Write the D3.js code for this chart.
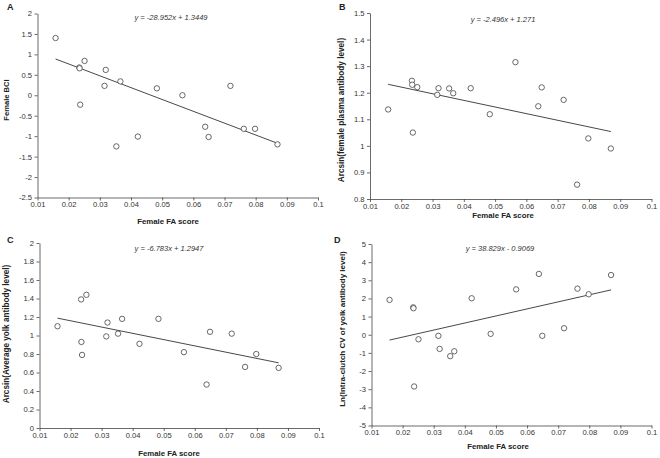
<!DOCTYPE html>
<html>
<head>
<meta charset="utf-8">
<script src="https://cdn.jsdelivr.net/npm/d3@7"></script>
<style>
  body { margin: 0; background: #fff; }
  svg text { font-family: "Liberation Sans", Arial, sans-serif; }
</style>
</head>
<body>
<svg id="chart" width="660" height="458"></svg>
<script>
// Female FA score, shared by every panel (18 females)
var faScore = [0.0158, 0.0234, 0.0235, 0.0237, 0.0251, 0.0315, 0.0319, 0.0353, 0.0366,
               0.0422, 0.0483, 0.0565, 0.0638, 0.0649, 0.0719, 0.0762, 0.0798, 0.0870];

// y values per panel, in the same order as faScore
var bciA = [1.40, 0.68, 0.66, -0.23, 0.84, 0.23, 0.62, -1.25, 0.34,
            -1.01, 0.17, 0.00, -0.77, -1.02, 0.23, -0.82, -0.82, -1.20];
var plasmaB = [1.137, 1.245, 1.230, 1.050, 1.221, 1.192, 1.217, 1.216, 1.198,
               1.217, 1.119, 1.315, 1.149, 1.220, 1.173, 0.854, 1.028, 0.990];
var yolkC = [1.10, 1.39, 0.93, 0.79, 1.44, 0.99, 1.14, 1.02, 1.18,
             0.91, 1.18, 0.82, 0.47, 1.04, 1.02, 0.66, 0.80, 0.65];
var cvD = [1.92, 1.51, 1.46, -2.85, -0.25, -0.06, -0.78, -1.18, -0.91,
           2.01, 0.05, 2.50, 3.35, -0.06, 0.36, 2.54, 2.23, 3.29];

// regression lines printed on the chart
var slopes = [-28.952, -2.496, -6.783, 38.829];
var intercepts = [1.3449, 1.271, 1.2947, -0.9069];
var equations = ["y = -28.952x + 1.3449", "y = -2.496x + 1.271",
                 "y = -6.783x + 1.2947", "y = 38.829x - 0.9069"];

var panelLetters = ["A", "B", "C", "D"];
var yTitles = ["Female BCI", "Arcsin(female plasma antibody level)",
               "Arcsin(Average yolk antibody level)", "Ln(Intra-clutch CV of yolk antibody level)"];
var xTitle = "Female FA score";

var xTicks = [0.01, 0.02, 0.03, 0.04, 0.05, 0.06, 0.07, 0.08, 0.09, 0.1];
var xTickLabels = ["0.01", "0.02", "0.03", "0.04", "0.05", "0.06", "0.07", "0.08", "0.09", "0.1"];

var yTicksA = [2, 1.5, 1, 0.5, 0, -0.5, -1, -1.5, -2, -2.5];
var yLabelsA = ["2", "1.5", "1", "0.5", "0", "-0.5", "-1", "-1.5", "-2", "-2.5"];
var yTicksB = [1.5, 1.4, 1.3, 1.2, 1.1, 1, 0.9, 0.8];
var yLabelsB = ["1.5", "1.4", "1.3", "1.2", "1.1", "1", "0.9", "0.8"];
var yTicksC = [2, 1.8, 1.6, 1.4, 1.2, 1, 0.8, 0.6, 0.4, 0.2, 0];
var yLabelsC = ["2", "1.8", "1.6", "1.4", "1.2", "1", "0.8", "0.6", "0.4", "0.2", "0"];
var yTicksD = [5, 4, 3, 2, 1, 0, -1, -2, -3, -4, -5];
var yLabelsD = ["5", "4", "3", "2", "1", "0", "-1", "-2", "-3", "-4", "-5"];

var svg = d3.select("#chart");

// panel boxes (plot area) in pixels
var panels = [
  { ys: bciA,    yt: yTicksA, yl: yLabelsA, left: 37.5,  right: 318,   top: 13.5, bottom: 197.5,
    letter: [7, 10],   eq: [171, 20],  xt: [168, 224], ytx: 9,   yty: 100, yfs: 7.6 },
  { ys: plasmaB, yt: yTicksB, yl: yLabelsB, left: 370,   right: 651.5, top: 13,   bottom: 199,
    letter: [339, 10], eq: [503, 22],  xt: [503, 218], ytx: 344, yty: 110, yfs: 8.2 },
  { ys: yolkC,   yt: yTicksC, yl: yLabelsC, left: 39.5,  right: 319,   top: 243,  bottom: 428,
    letter: [7, 243],  eq: [169, 251], xt: [169, 456], ytx: 8.5, yty: 334, yfs: 8.2 },
  { ys: cvD,     yt: yTicksD, yl: yLabelsD, left: 371.5, right: 651.5, top: 244,  bottom: 425.5,
    letter: [334, 243], eq: [500, 251], xt: [498, 449], ytx: 345, yty: 329, yfs: 8 }
];

panels.forEach(function(p, i) {
  var x = d3.scaleLinear().domain([0.01, 0.1]).range([p.left, p.right]);
  var y = d3.scaleLinear().domain([d3.min(p.yt), d3.max(p.yt)]).range([p.bottom, p.top]);
  var g = svg.append("g");

  // axes
  var xAxis = d3.axisBottom(x).tickValues(xTicks)
    .tickFormat(function(d, k) { return xTickLabels[k]; })
    .tickSizeInner(3).tickSizeOuter(0).tickPadding(1.5);
  var yAxis = d3.axisLeft(y).tickValues(p.yt)
    .tickFormat(function(d, k) { return p.yl[k]; })
    .tickSizeInner(3).tickSizeOuter(0).tickPadding(2.5);

  g.append("g").attr("transform", "translate(0," + p.bottom + ")").call(xAxis);
  g.append("g").attr("transform", "translate(" + p.left + ",0)").call(yAxis);
  g.selectAll(".domain, .tick line").attr("stroke", "#444").attr("stroke-width", 0.8);
  g.selectAll(".tick text").attr("font-size", 7.6).attr("fill", "#333")
    .attr("font-family", "Liberation Sans, Arial, sans-serif");

  // regression line
  var xs = d3.extent(faScore);
  g.append("line")
    .attr("x1", x(xs[0])).attr("y1", y(slopes[i] * xs[0] + intercepts[i]))
    .attr("x2", x(xs[1])).attr("y2", y(slopes[i] * xs[1] + intercepts[i]))
    .attr("stroke", "#333").attr("stroke-width", 0.9);

  // points
  g.selectAll(".pt").data(p.ys).enter().append("circle")
    .attr("class", "pt")
    .attr("cx", function(d, k) { return x(faScore[k]); })
    .attr("cy", function(d) { return y(d); })
    .attr("r", 2.7)
    .attr("fill", "#fff").attr("stroke", "#444").attr("stroke-width", 0.8);

  // texts
  g.append("text").attr("x", p.letter[0]).attr("y", p.letter[1])
    .attr("font-size", 9).attr("font-weight", "bold").attr("fill", "#222")
    .text(panelLetters[i]);
  g.append("text").attr("x", p.eq[0]).attr("y", p.eq[1]).attr("text-anchor", "middle")
    .attr("font-size", 7.5).attr("font-style", "italic").attr("fill", "#333")
    .text(equations[i]);
  g.append("text").attr("x", p.xt[0]).attr("y", p.xt[1]).attr("text-anchor", "middle")
    .attr("font-size", 7.8).attr("font-weight", "bold").attr("fill", "#222")
    .text(xTitle);
  g.append("text")
    .attr("transform", "translate(" + p.ytx + "," + p.yty + ") rotate(-90)")
    .attr("text-anchor", "middle")
    .attr("font-size", p.yfs).attr("font-weight", "bold").attr("fill", "#222")
    .text(yTitles[i]);
});
</script>
</body>
</html>
